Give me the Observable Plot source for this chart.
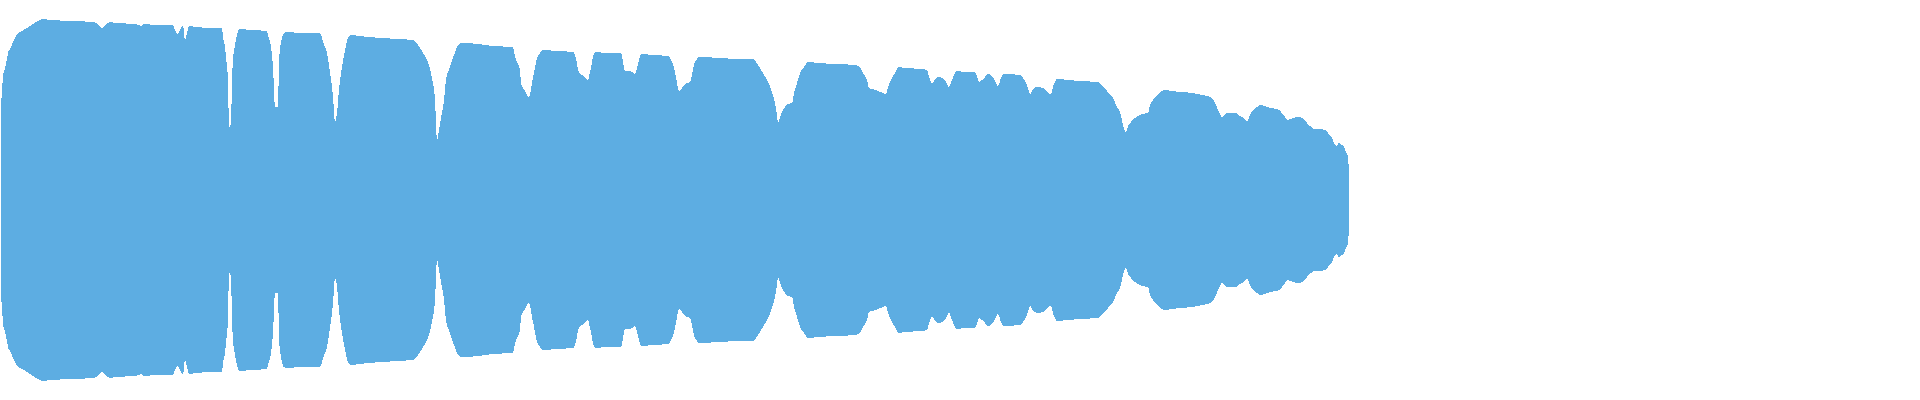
<!DOCTYPE html>
<html>
<head>
<meta charset="utf-8">
<script src="https://cdn.jsdelivr.net/npm/d3@7"></script>
<script src="https://cdn.jsdelivr.net/npm/@observablehq/plot@0.6"></script>
<style>
  html, body { margin: 0; padding: 0; background: #ffffff; overflow: hidden; }
  #chart svg { display: block; }
</style>
</head>
<body>
<div id="chart"></div>
<script>
// Position along the stream (abstract units, 0..1920)
const positions = [1,2,3,5,7,8,10,13,17,22,27,33,38,42,51,73,93,98,102,105,110,116,135,142,144,157,173,175,178,182,183,185,187,189,196,215,222,223,225,227,228,229,231,232,233,235,237,239,251,267,268,271,273,275,278,279,280,282,285,303,320,323,327,330,333,335,337,339,342,345,348,351,368,383,397,413,418,423,429,432,435,437,439,441,444,446,450,454,457,461,479,493,513,514,517,520,521,525,529,532,535,537,540,542,557,573,575,577,578,580,582,585,588,590,592,593,596,607,621,623,625,628,632,635,637,639,641,653,668,672,675,677,679,682,687,690,692,694,697,699,720,740,753,758,763,768,772,775,777,778,780,783,788,792,794,797,800,804,808,818,837,855,860,863,867,869,872,878,883,886,888,891,895,899,905,922,927,929,932,934,938,943,946,949,952,955,957,965,975,977,979,982,985,988,992,995,998,1001,1003,1020,1023,1027,1030,1033,1038,1043,1047,1051,1053,1057,1068,1080,1098,1103,1108,1113,1117,1121,1123,1126,1128,1131,1135,1142,1148,1150,1153,1158,1164,1172,1180,1193,1202,1207,1212,1215,1218,1222,1225,1228,1236,1240,1244,1247,1250,1253,1257,1260,1265,1270,1277,1282,1285,1287,1293,1298,1303,1307,1310,1314,1320,1325,1328,1332,1334,1337,1339,1342,1344,1346,1348,1349];

// Half-width of the mirrored band at each position
const halfWidths = [96,108,123,132,141,147,151,158,166,169,172,176,179,181,180,179,178,176,172,175,178,177,176,174,176,175,175,170,166,174,174,160,167,174,173,172,172,163,153,133,120,72,77,120,140,155,165,171,170,169,165,153,133,93,93,138,150,162,168,167,167,158,147,128,103,78,87,110,133,150,162,165,163,162,161,160,155,147,135,122,100,60,70,82,100,120,133,145,153,157,156,154,153,148,138,130,117,109,103,117,132,142,147,150,149,148,145,137,130,126,125,123,120,128,137,144,148,147,147,138,129,129,128,126,132,140,146,145,144,138,128,117,109,112,117,118,125,135,141,143,142,141,141,135,127,118,108,97,85,77,83,90,96,97,107,117,127,133,138,137,136,135,133,127,120,112,111,109,107,106,113,120,127,133,132,131,130,123,117,119,123,122,118,113,120,127,129,128,128,124,118,120,123,126,124,119,114,122,126,125,122,115,106,111,113,112,108,106,113,121,120,119,118,113,108,102,93,85,75,68,74,78,82,86,87,95,100,106,110,109,108,107,105,104,102,97,90,83,86,87,87,84,82,79,85,90,93,95,94,92,91,87,83,80,82,83,82,77,74,71,71,70,67,62,57,54,57,55,53,48,43,25];

const xDomain = [0, 1920];
const yDomain = [-200, 200];

const data = positions.map((t, i) => ({t, v: halfWidths[i]}));

const chart = Plot.plot({
  width: 1920,
  height: 400,
  marginTop: 0,
  marginBottom: 0,
  marginLeft: 0,
  marginRight: 0,
  x: {domain: xDomain, axis: null},
  y: {domain: yDomain, axis: null},
  style: {background: "#ffffff"},
  marks: [
    Plot.areaY(data, {
      x: "t",
      y1: d => -d.v,
      y2: d => d.v,
      fill: "#5dade2",
      curve: "monotone-x",
      shapeRendering: "crispEdges"
    })
  ]
});
document.getElementById("chart").appendChild(chart);
</script>
</body>
</html>
